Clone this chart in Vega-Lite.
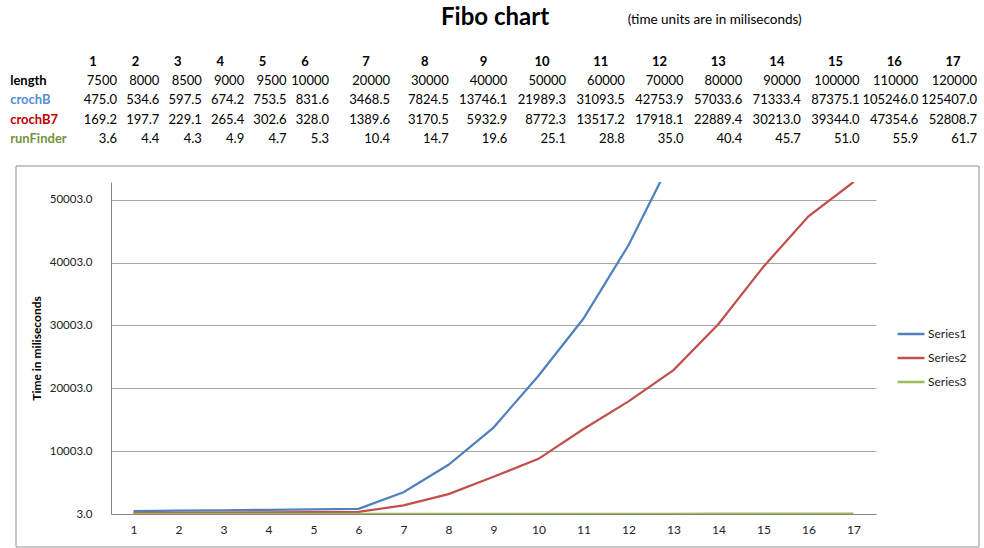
{
  "$schema": "https://vega.github.io/schema/vega-lite/v6.json",
  "padding": {"left": 10, "top": 6, "right": 0, "bottom": 0},
  "background": "white",
  "datasets": {
    "fibo": [
      {"n": 1, "length": 7500, "crochB": 475.0, "crochB7": 169.2, "runFinder": 3.6},
      {"n": 2, "length": 8000, "crochB": 534.6, "crochB7": 197.7, "runFinder": 4.4},
      {"n": 3, "length": 8500, "crochB": 597.5, "crochB7": 229.1, "runFinder": 4.3},
      {"n": 4, "length": 9000, "crochB": 674.2, "crochB7": 265.4, "runFinder": 4.9},
      {"n": 5, "length": 9500, "crochB": 753.5, "crochB7": 302.6, "runFinder": 4.7},
      {"n": 6, "length": 10000, "crochB": 831.6, "crochB7": 328.0, "runFinder": 5.3},
      {"n": 7, "length": 20000, "crochB": 3468.5, "crochB7": 1389.6, "runFinder": 10.4},
      {"n": 8, "length": 30000, "crochB": 7824.5, "crochB7": 3170.5, "runFinder": 14.7},
      {"n": 9, "length": 40000, "crochB": 13746.1, "crochB7": 5932.9, "runFinder": 19.6},
      {"n": 10, "length": 50000, "crochB": 21989.3, "crochB7": 8772.3, "runFinder": 25.1},
      {"n": 11, "length": 60000, "crochB": 31093.5, "crochB7": 13517.2, "runFinder": 28.8},
      {"n": 12, "length": 70000, "crochB": 42753.9, "crochB7": 17918.1, "runFinder": 35.0},
      {"n": 13, "length": 80000, "crochB": 57033.6, "crochB7": 22889.4, "runFinder": 40.4},
      {"n": 14, "length": 90000, "crochB": 71333.4, "crochB7": 30213.0, "runFinder": 45.7},
      {"n": 15, "length": 100000, "crochB": 87375.1, "crochB7": 39344.0, "runFinder": 51.0},
      {"n": 16, "length": 110000, "crochB": 105246.0, "crochB7": 47354.6, "runFinder": 55.9},
      {"n": 17, "length": 120000, "crochB": 125407.0, "crochB7": 52808.7, "runFinder": 61.7}
    ],
    "rowLabels": [
      {"row": "length"},
      {"row": "crochB"},
      {"row": "crochB7"},
      {"row": "runFinder"}
    ]
  },
  "spacing": 16,
  "resolve": {"scale": {"color": "independent"}},
  "vconcat": [
    {
      "width": 765,
      "height": 134.4,
      "data": {"name": "fibo"},
      "layer": [
        {
          "data": {"values": [{}]},
          "mark": {"type": "text", "font": "Lato", "fontSize": 24, "fontWeight": "bold", "color": "black", "align": "center", "baseline": "middle"},
          "encoding": {
            "x": {"datum": 8.79, "type": "quantitative", "scale": {"domain": [1, 6, 7, 17], "range": [6, 218, 279, 866], "zero": false, "nice": false}, "axis": null},
            "y": {"datum": "sub", "type": "nominal", "bandPosition": 0.21, "scale": {"type": "band", "domain": ["sub", "gap", "hdr", "length", "crochB", "crochB7", "runFinder"], "paddingInner": 0, "paddingOuter": 0}, "axis": null},
            "text": {"value": "Fibo chart"}
          }
        },
        {
          "data": {"values": [{}]},
          "mark": {"type": "text", "font": "Lato", "fontSize": 13.5, "color": "black", "align": "left", "baseline": "middle"},
          "encoding": {
            "x": {"datum": 11.05, "type": "quantitative"},
            "y": {"datum": "sub", "type": "nominal", "bandPosition": 0.31},
            "text": {"value": "(time units are in miliseconds)"}
          }
        },
        {
          "mark": {"type": "text", "font": "Lato", "fontSize": 13, "fontWeight": "bold", "color": "black", "align": "center", "baseline": "middle", "dx": -24},
          "encoding": {
            "x": {"field": "n", "type": "quantitative"},
            "y": {"datum": "hdr", "type": "nominal"},
            "text": {"field": "n", "type": "quantitative", "format": "d"}
          }
        },
        {
          "mark": {"type": "text", "font": "Lato", "fontSize": 13, "align": "right", "color": "black", "baseline": "middle"},
          "encoding": {
            "x": {"field": "n", "type": "quantitative"},
            "y": {"datum": "length", "type": "nominal"},
            "text": {"field": "length", "type": "quantitative", "format": "d"}
          }
        },
        {
          "transform": [{"fold": ["crochB", "crochB7", "runFinder"], "as": ["row", "val"]}],
          "mark": {"type": "text", "font": "Lato", "fontSize": 13, "align": "right", "color": "black", "baseline": "middle"},
          "encoding": {
            "x": {"field": "n", "type": "quantitative"},
            "y": {"field": "row", "type": "nominal"},
            "text": {"field": "val", "type": "quantitative", "format": ".1f"}
          }
        },
        {
          "data": {"name": "rowLabels"},
          "mark": {"type": "text", "font": "Lato", "fontSize": 13, "fontWeight": "bold", "align": "left", "baseline": "middle"},
          "encoding": {
            "x": {"datum": -1.52, "type": "quantitative"},
            "y": {"field": "row", "type": "nominal"},
            "text": {"field": "row", "type": "nominal"},
            "color": {"field": "row", "type": "nominal", "scale": {"domain": ["length", "crochB", "crochB7", "runFinder"], "range": ["#000000", "#558ED5", "#C00000", "#77933C"]}, "legend": null}
          }
        }
      ]
    },
    {
      "width": 765,
      "height": 332,
      "layer": [
        {
          "data": {"values": [{}]},
          "mark": {"type": "rect", "fill": "white", "fillOpacity": 0, "stroke": "#8E8E8E", "strokeWidth": 1, "clip": false},
          "encoding": {
            "x": {"datum": -1.611, "type": "quantitative", "title": null},
            "x2": {"datum": 19.789},
            "y": {"datum": 55353, "type": "quantitative", "title": "Time in miliseconds"},
            "y2": {"datum": -5246}
          }
        },
        {
          "data": {"name": "fibo"},
          "transform": [{"fold": ["crochB", "crochB7", "runFinder"], "as": ["series", "v"]}],
          "mark": {"type": "line", "clip": true, "strokeWidth": 2.25},
          "encoding": {
            "x": {
              "field": "n", "type": "quantitative", "title": null,
              "scale": {"domain": [0.5, 17.5], "nice": false, "zero": false},
              "axis": {"values": [1, 2, 3, 4, 5, 6, 7, 8, 9, 10, 11, 12, 13, 14, 15, 16, 17], "format": "d", "grid": false, "ticks": false, "domain": true, "domainColor": "#868686", "labelPadding": 10, "labelFontSize": 12, "labelFont": "Lato", "labelColor": "#222222"}
            },
            "y": {
              "field": "v", "type": "quantitative", "title": "Time in miliseconds",
              "scale": {"domain": [3, 52808.7], "nice": false, "zero": false},
              "axis": {"values": [3, 10003, 20003, 30003, 40003, 50003], "format": ".1f", "grid": true, "gridColor": "#A6A6A6", "ticks": false, "domain": true, "domainColor": "#868686", "labelPadding": 19, "labelFontSize": 11.5, "labelFont": "Lato", "labelColor": "#222222", "titleFont": "Lato", "titleFontSize": 12, "titleFontWeight": "bold", "titleColor": "black", "titlePadding": 6}
            },
            "color": {
              "field": "series", "type": "nominal",
              "scale": {"domain": ["crochB", "crochB7", "runFinder"], "range": ["#4F81BD", "#C0504D", "#9BBB59"]},
              "legend": {"title": null, "orient": "none", "legendX": 785, "legendY": 137, "symbolType": "stroke", "symbolSize": 729, "symbolStrokeWidth": 2.5, "labelFont": "Lato", "labelFontSize": 12, "labelColor": "#222222", "labelOffset": 2, "rowPadding": 3, "labelExpr": "{'crochB': 'Series1', 'crochB7': 'Series2', 'runFinder': 'Series3'}[datum.label]"}
            }
          }
        }
      ]
    }
  ],
  "config": {"view": {"stroke": null}, "font": "Lato"}
}
